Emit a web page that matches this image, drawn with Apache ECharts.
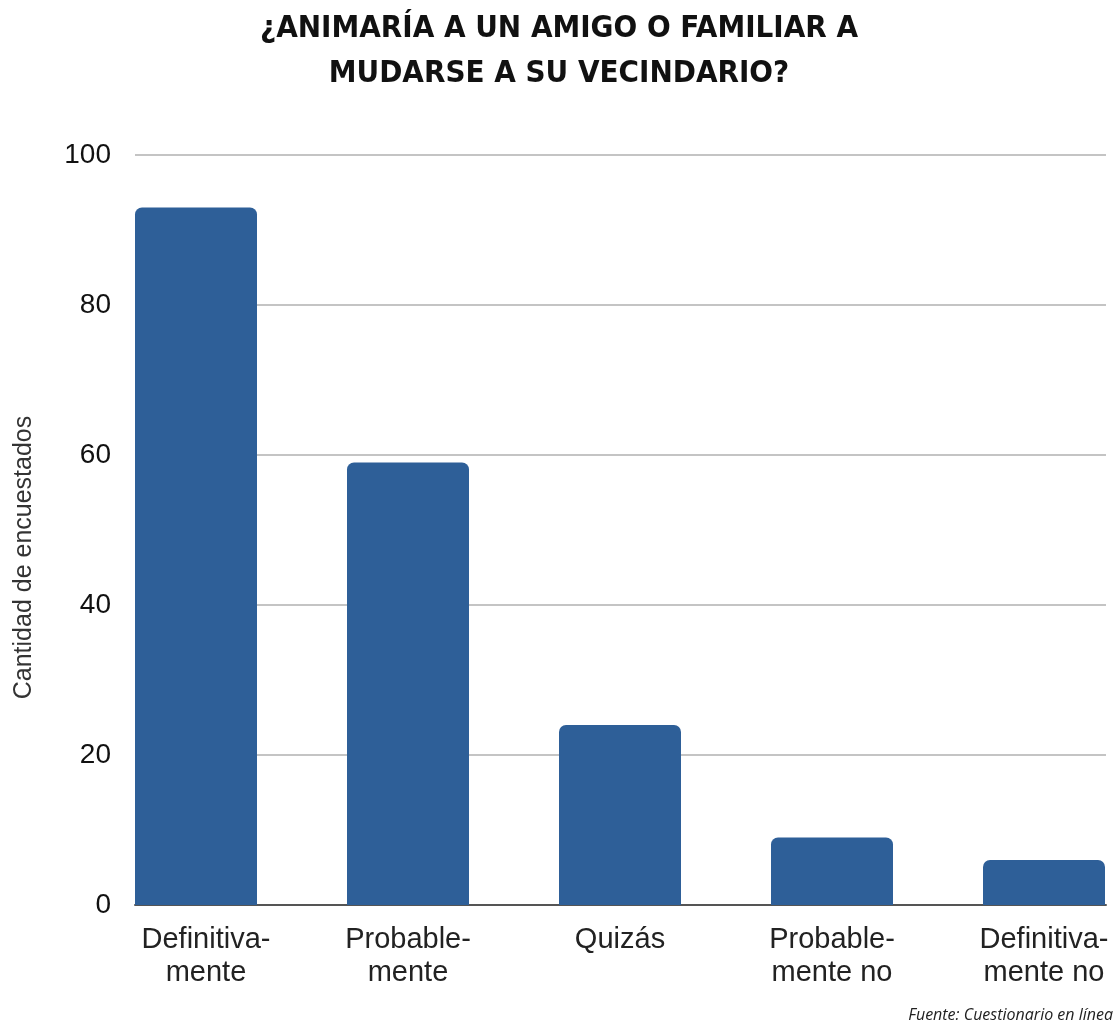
<!DOCTYPE html>
<html><head><meta charset="utf-8">
<script src="https://cdn.jsdelivr.net/npm/echarts@6/dist/echarts.min.js"></script>
<style>html,body{margin:0;padding:0;background:#fff;}#c{width:1118px;height:1025px;}</style>
</head><body><div id="c"></div>
<script>
const categories = ['Definitiva-\nmente', 'Probable-\nmente', 'Quizás', 'Probable-\nmente no', 'Definitiva-\nmente no'];
const values = [93, 59, 24, 9, 6];
const yTicks = [0, 20, 40, 60, 80, 100];

const labelData = categories.map((c, i) => i === 0 ? { value: c, textStyle: { padding: [0, 0, 0, 20] } } : c);

const chart = echarts.init(document.getElementById('c'));
chart.setOption({
  animation: false,
  backgroundColor: '#ffffff',
  title: [{
    text: '¿ANIMARÍA A UN AMIGO O FAMILIAR A\nMUDARSE A SU VECINDARIO?',
    left: 'center', top: 6, padding: [0, 0, 0, 22],
    textStyle: { fontFamily: "'DejaVu Sans Condensed', 'Liberation Sans Narrow', 'Roboto', sans-serif", fontWeight: 'bold', fontSize: 31, lineHeight: 45, color: '#111' }
  }, {
    text: 'Fuente: Cuestionario en línea',
    right: 5, top: 1007, padding: 0,
    textStyle: { fontFamily: 'Open Sans', fontStyle: 'italic', fontWeight: 'normal', fontSize: 16, color: '#222' }
  }],
  grid: [
    { left: 135, top: 155, width: 971, height: 750, outerBoundsMode: 'none', containLabel: false },
    { left: 90, top: 155, width: 1060, height: 750, outerBoundsMode: 'none', containLabel: false }
  ],
  xAxis: [
    { type: 'category', gridIndex: 0, data: categories,
      axisLine: { show: true, lineStyle: { color: '#555', width: 2 } },
      axisTick: { show: false }, axisLabel: { show: false }, splitLine: { show: false } },
    { type: 'category', gridIndex: 1, data: labelData,
      axisLine: { show: false }, axisTick: { show: false },
      axisLabel: { show: true, fontFamily: 'Liberation Sans', fontSize: 29, lineHeight: 33, color: '#222', margin: 18, interval: 0 } }
  ],
  yAxis: [
    { type: 'value', gridIndex: 0, min: yTicks[0], max: yTicks[yTicks.length - 1], interval: 20,
      name: 'Cantidad de encuestados', nameLocation: 'middle', nameGap: 98, nameRotate: 90,
      nameTextStyle: { fontFamily: 'Liberation Sans', fontSize: 25, color: '#333', padding: [0, 55, 0, 0] },
      axisLine: { show: false }, axisTick: { show: false },
      axisLabel: { fontFamily: 'Liberation Sans', fontSize: 28, color: '#111', margin: 24 },
      splitLine: { show: true, lineStyle: { color: '#c4c4c4', width: 2 } } },
    { type: 'value', gridIndex: 1, min: yTicks[0], max: yTicks[yTicks.length - 1], interval: 20,
      show: false, splitLine: { show: false } }
  ],
  series: [{
    type: 'bar', xAxisIndex: 1, yAxisIndex: 1, data: values,
    barWidth: 122,
    itemStyle: { color: '#2e5f98', borderRadius: [7, 7, 0, 0] }
  }]
});
</script></body></html>
